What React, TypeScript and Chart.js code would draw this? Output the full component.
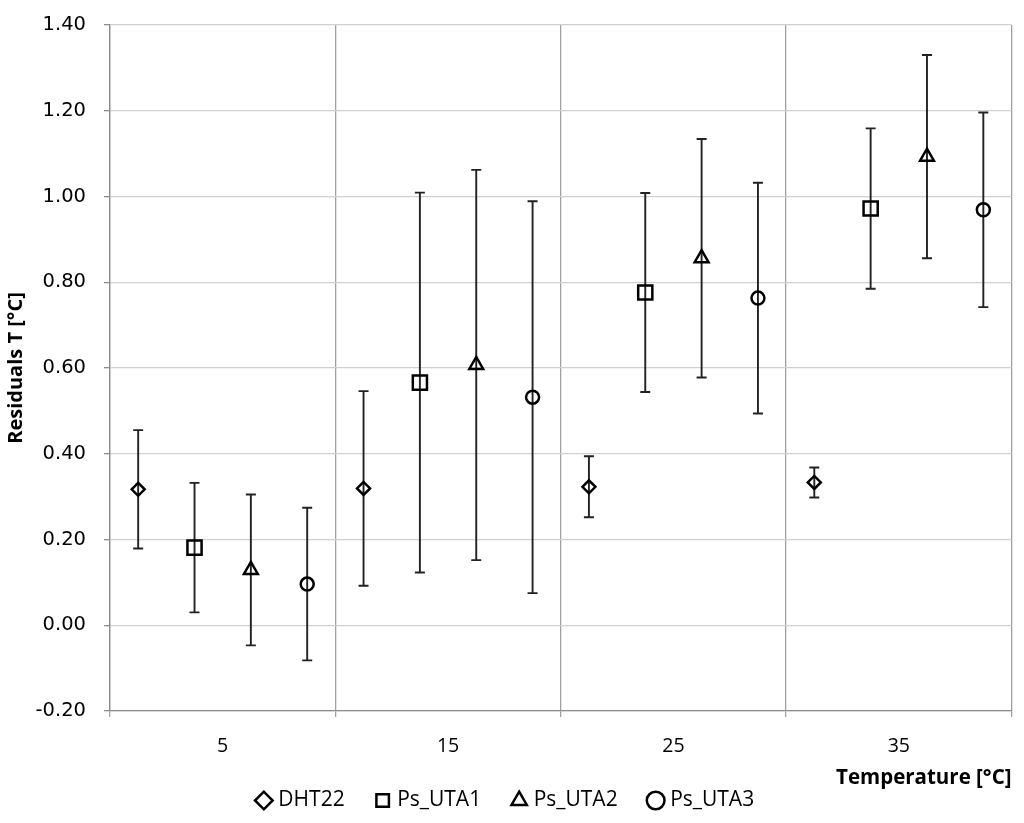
import React, { useEffect, useRef } from 'react';
import { Chart, registerables } from 'chart.js';

Chart.register(...registerables);

const categories = [5, 15, 25, 35];
const xTickValues = [0, 5, 10, 15, 20, 25, 30, 35, 40];
const seriesNames = ['DHT22', 'Ps_UTA1', 'Ps_UTA2', 'Ps_UTA3'];
const seriesOffsets = [-3.75, -1.25, 1.25, 3.75];
const dht22Values = [0.317, 0.319, 0.323, 0.333];
const dht22Errors = [0.138, 0.227, 0.071, 0.035];
const psUta1Values = [0.181, 0.566, 0.776, 0.972];
const psUta1Errors = [0.151, 0.443, 0.232, 0.187];
const psUta2Values = [0.129, 0.607, 0.856, 1.093];
const psUta2Errors = [0.176, 0.455, 0.278, 0.237];
const psUta3Values = [0.096, 0.532, 0.763, 0.969];
const psUta3Errors = [0.178, 0.457, 0.269, 0.227];
const pointStyles = ['rectRot', 'rect', 'triangle', 'circle'];
const pointRadii = [6.5, 10, 8, 6.5];

const seriesValues = [dht22Values, psUta1Values, psUta2Values, psUta3Values];
const seriesErrors = [dht22Errors, psUta1Errors, psUta2Errors, psUta3Errors];

const labelFont = '"Open Sans", Lato, sans-serif';

const errorBarPlugin = {
  id: 'errorBars',
  beforeDatasetsDraw(chart: any) {
    const { ctx, scales } = chart;
    const x = scales.x;
    const y = scales.y;
    ctx.save();
    ctx.strokeStyle = '#222222';
    ctx.lineWidth = 1.9;
    chart.data.datasets.forEach((ds: any) => {
      const errs = ds.errors as number[];
      ds.data.forEach((pt: any, j: number) => {
        const px = x.getPixelForValue(pt.x);
        const top = y.getPixelForValue(pt.y + errs[j]);
        const bot = y.getPixelForValue(pt.y - errs[j]);
        ctx.beginPath();
        ctx.moveTo(px, top);
        ctx.lineTo(px, bot);
        ctx.moveTo(px - 5, top);
        ctx.lineTo(px + 5, top);
        ctx.moveTo(px - 5, bot);
        ctx.lineTo(px + 5, bot);
        ctx.stroke();
      });
    });
    ctx.restore();
  },
};

export default function App() {
  const canvasRef = useRef<HTMLCanvasElement | null>(null);

  useEffect(() => {
    document.body.style.margin = '0';
    const canvas = canvasRef.current;
    if (!canvas) return;
    const datasets = seriesNames.map((name, i) => ({
      label: name,
      data: categories.map((c, j) => ({ x: c + seriesOffsets[i], y: seriesValues[i][j] })),
      errors: seriesErrors[i],
      pointStyle: pointStyles[i],
      pointRadius: pointRadii[i],
      pointHoverRadius: pointRadii[i],
      backgroundColor: 'rgba(0,0,0,0)',
      borderColor: '#000000',
      borderWidth: 2.5,
      showLine: false,
    }));

    const vGrid = (ctx: any) =>
      ctx.tick && Math.round(ctx.tick.value) % 10 === 0 ? '#a0a0a0' : 'rgba(0,0,0,0)';

    const chart = new Chart(canvas, {
      type: 'scatter',
      data: { datasets } as any,
      plugins: [errorBarPlugin],
      options: {
        animation: false,
        responsive: false,
        devicePixelRatio: 1,
        layout: { padding: { top: 25, right: 10, bottom: 2, left: 0 } },
        plugins: {
          tooltip: { enabled: false },
          legend: {
            position: 'bottom',
            align: 'center',
            labels: {
              usePointStyle: true,
              boxWidth: 8,
              boxHeight: 12.5,
              padding: 34,
              color: '#000000',
              font: { family: labelFont, size: 21 },
            },
          },
        },
        scales: {
          x: {
            type: 'linear',
            min: 0,
            max: 40,
            afterBuildTicks: (s: any) => {
              s.ticks = xTickValues.map((v) => ({ value: v }));
            },
            afterFit: (s: any) => {
              s.height = 45;
              s.paddingLeft = 0;
              s.paddingRight = 0;
            },
            ticks: {
              autoSkip: false,
              maxRotation: 0,
              padding: 18,
              color: '#000000',
              font: { family: labelFont, size: 19.5 },
              callback: (v: any) => (Math.round(Number(v)) % 10 === 5 ? String(v) : ''),
            },
            grid: {
              color: vGrid,
              tickColor: vGrid,
              tickLength: 6,
              lineWidth: 1.3,
            },
            border: { color: '#8c8c8c', width: 1.3 },
            title: {
              display: true,
              text: 'Temperature [°C]',
              align: 'end',
              color: '#000000',
              font: { family: labelFont, size: 20.5, weight: 'bold', lineHeight: 1 },
              padding: { top: 0, bottom: -32.25 },
            },
          },
          y: {
            type: 'linear',
            min: -0.2,
            max: 1.4,
            afterFit: (s: any) => {
              s.width = 110;
              s.paddingTop = 0;
              s.paddingBottom = 0;
            },
            ticks: {
              stepSize: 0.2,
              padding: 18,
              color: '#000000',
              font: { family: '"DejaVu Sans", Verdana, sans-serif', size: 19.5 },
              callback: (v: any) => {
                const n = Number(v);
                return (Math.abs(n) < 1e-9 ? 0 : n).toFixed(2);
              },
            },
            grid: {
              color: '#d0d0d0',
              tickColor: '#8c8c8c',
              tickLength: 6,
              lineWidth: 1.3,
            },
            border: { color: '#8c8c8c', width: 1.3 },
            title: {
              display: true,
              text: 'Residuals T [°C]',
              color: '#000000',
              font: { family: labelFont, size: 20, weight: 'bold' },
              padding: { top: 4, bottom: 0 },
            },
          },
        },
      } as any,
    });
    return () => chart.destroy();
  }, []);

  return (
    <div style={{ position: 'absolute', left: 0, top: 0, width: 1024, height: 823 }}>
      <canvas ref={canvasRef} width={1024} height={823} style={{ display: 'block' }} />
    </div>
  );
}
